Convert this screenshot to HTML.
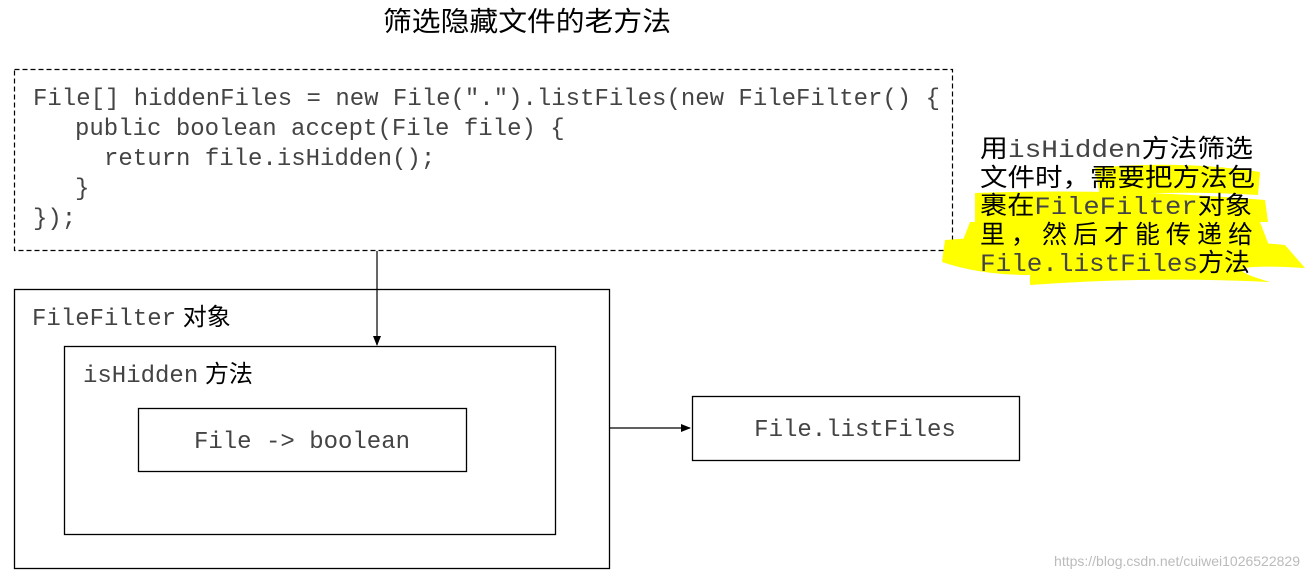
<!DOCTYPE html>
<html><head><meta charset="utf-8"><style>
html,body{margin:0;padding:0;background:#fff;}
svg{display:block}
.m{font-family:"Liberation Mono","Noto Sans CJK SC",monospace;fill:#444}
.c{font-family:"Liberation Sans","Noto Sans CJK SC",sans-serif;fill:#000}
</style></head><body>
<svg width="1310" height="580" viewBox="0 0 1310 580" xmlns="http://www.w3.org/2000/svg">
<defs><marker id="a" markerWidth="10" markerHeight="10" refX="9" refY="5" orient="auto" markerUnits="userSpaceOnUse"><path d="M0,1 L10,5 L0,9 Z" fill="#000"/></marker></defs>
<text x="527" y="31" class="c" font-size="27" text-anchor="middle" textLength="288" lengthAdjust="spacingAndGlyphs">筛选隐藏文件的老方法</text>
<rect x="14.5" y="69.5" width="938" height="181" fill="none" stroke="#000" stroke-width="1.2" stroke-dasharray="5,3"/>
<g class="m" font-size="24">
<text x="33" y="105" textLength="907" lengthAdjust="spacingAndGlyphs">File[] hiddenFiles = new File(".").listFiles(new FileFilter() {</text>
<text x="75" y="135">public boolean accept(File file) {</text>
<text x="104" y="165">return file.isHidden();</text>
<text x="75" y="195">}</text>
<text x="33" y="225">});</text>
</g>
<line x1="377" y1="251" x2="377" y2="345" stroke="#000" stroke-width="1.2" marker-end="url(#a)"/>
<rect x="14.5" y="289.5" width="595" height="279" fill="none" stroke="#000" stroke-width="1.3"/>
<text x="32" y="325" class="m" font-size="24">FileFilter<tspan class="c" font-size="24"> 对象</tspan></text>
<rect x="64.5" y="346.5" width="491" height="188" fill="none" stroke="#000" stroke-width="1.3"/>
<text x="83" y="382" class="m" font-size="24">isHidden<tspan class="c"> 方法</tspan></text>
<rect x="138.5" y="408.5" width="328" height="63" fill="none" stroke="#000" stroke-width="1.3"/>
<text x="302" y="448" class="m" font-size="24" text-anchor="middle">File -&gt; boolean</text>
<line x1="610" y1="428" x2="690" y2="428" stroke="#000" stroke-width="1.2" marker-end="url(#a)"/>
<rect x="692.5" y="396.5" width="327" height="64" fill="none" stroke="#000" stroke-width="1.3"/>
<text x="855" y="436" class="m" font-size="24" text-anchor="middle">File.listFiles</text>
<g fill="#ffff00">
<path d="M1095,168 Q1180,160 1260,172 L1258,195 Q1180,190 1100,196 Z"/>
<path d="M975,193 Q1120,188 1265,200 L1268,222 Q1120,222 975,223 Z"/>
<path d="M945,240 Q1100,228 1285,245 L1305,268 Q1200,262 1270,282 Q1150,276 1030,285 L1030,275 Q980,275 942,262 Z"/>
<path d="M970,222 L1260,222 L1270,248 L960,248 Z"/>
</g>
<g class="c" font-size="25">
<text x="980" y="157" textLength="273" lengthAdjust="spacingAndGlyphs">用<tspan class="m" font-size="25">isHidden</tspan>方法筛选</text>
<text x="980" y="186" textLength="275" lengthAdjust="spacingAndGlyphs">文件时，需要把方法包</text>
<text x="980" y="214" textLength="272" lengthAdjust="spacingAndGlyphs">裹在<tspan class="m" font-size="25">FileFilter</tspan>对象</text>
<text x="980" y="243" textLength="273">里，然后才能传递给</text>
<text x="980" y="271" textLength="270" lengthAdjust="spacingAndGlyphs"><tspan class="m" font-size="25">File.listFiles</tspan>方法</text>
</g>
<text x="1300" y="566" font-family="Liberation Sans,sans-serif" font-size="14" fill="#bbb" text-anchor="end">https://blog.csdn.net/cuiwei1026522829</text>
</svg>
</body></html>
